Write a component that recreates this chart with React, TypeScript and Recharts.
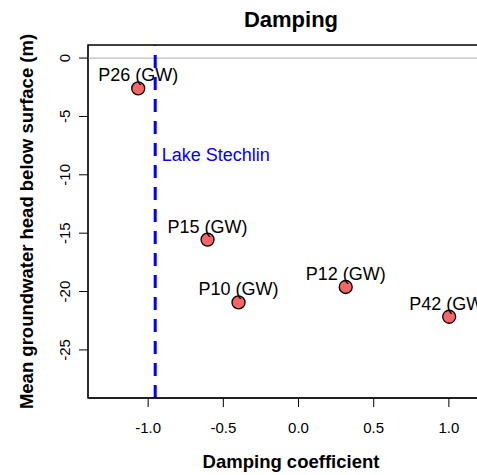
import React from "react";
import {
  ReferenceArea,
  ReferenceDot,
  ReferenceLine,
  Scatter,
  ScatterChart,
  XAxis,
  YAxis,
} from "recharts";

const FONT = "'Liberation Sans', Arial, Helvetica, sans-serif";

// piezometers
const wellNames = ["P26 (GW)", "P15 (GW)", "P10 (GW)", "P12 (GW)", "P42 (GW)"];
const dampingCoef = [-1.066, -0.605, -0.399, 0.314, 1.002];
const meanHead = [-2.6, -15.55, -20.93, -19.61, -22.16];

// lake reference
const lakeName = "Lake Stechlin";
const lakeDamping = -0.953;
const lakeLabelPos = { x: -0.91, y: -8.85 };

const xTicks = [-1, -0.5, 0, 0.5, 1];
const yTicks = [0, -5, -10, -15, -20, -25];
const xDomain: [number, number] = [-1.4, 1.3];
const yDomain: [number, number] = [-29.12, 1.12];

const points = wellNames.map((name, i) => ({
  name,
  x: dampingCoef[i],
  y: meanHead[i],
}));

const PointShape = (props: any) => {
  const { cx, cy, payload } = props;
  return (
    <g>
      <circle cx={cx} cy={cy} r={6.5} fill="#F56666" stroke="#000" strokeWidth={1.3} />
      <text
        x={cx}
        y={cy - 7}
        textAnchor="middle"
        fontSize={18}
        fontFamily={FONT}
        fill="#000"
      >
        {payload.name}
      </text>
    </g>
  );
};

const YTick = (props: any) => {
  const { x, y, payload } = props;
  return (
    <text
      x={x}
      y={y}
      transform={`rotate(-90, ${x}, ${y})`}
      textAnchor="middle"
      fontSize={15}
      fontFamily={FONT}
      fill="#000"
    >
      {payload.value}
    </text>
  );
};

export default function App() {
  return (
    <div
      style={{
        position: "absolute",
        left: 0,
        top: 0,
        width: 477,
        height: 475,
        overflow: "hidden",
        background: "#fff",
      }}
    >
      <div
        style={{
          position: "absolute",
          left: 88,
          width: 406,
          top: 7,
          textAlign: "center",
          fontFamily: FONT,
          fontWeight: "bold",
          fontSize: 22,
        }}
      >
        Damping
      </div>
      <ScatterChart
        width={500}
        height={475}
        margin={{ top: 45, right: 6, bottom: 0, left: 0 }}
      >
        <XAxis
          dataKey="x"
          type="number"
          domain={xDomain}
          ticks={xTicks}
          allowDataOverflow
          tickFormatter={(v: number) => v.toFixed(1)}
          height={77}
          tickSize={9}
          tickMargin={15}
          stroke="#000"
          tick={{ fontSize: 15, fill: "#000", fontFamily: FONT }}
          label={{
            content: (p: any) => {
              const vb = p.viewBox;
              return (
                <text
                  x={vb.x + vb.width / 2}
                  y={vb.y + 70}
                  textAnchor="middle"
                  fontSize={18.5}
                  fontWeight="bold"
                  fontFamily={FONT}
                  fill="#000"
                >
                  Damping coefficient
                </text>
              );
            },
          }}
        />
        <YAxis
          dataKey="y"
          type="number"
          domain={yDomain}
          ticks={yTicks}
          allowDataOverflow
          width={88}
          tickSize={9}
          tickMargin={9}
          stroke="#000"
          tick={<YTick />}
          label={{
            content: (p: any) => {
              const vb = p.viewBox;
              const cx = 33;
              const cy = vb.y + vb.height / 2;
              return (
                <text
                  x={cx}
                  y={cy}
                  transform={`rotate(-90, ${cx}, ${cy})`}
                  textAnchor="middle"
                  fontSize={18.5}
                  fontWeight="bold"
                  fontFamily={FONT}
                  fill="#000"
                >
                  Mean groundwater head below surface (m)
                </text>
              );
            },
          }}
        />
        <ReferenceArea
          x1={xDomain[0]}
          x2={xDomain[1]}
          y1={yDomain[0]}
          y2={yDomain[1]}
          fill="none"
          stroke="#000"
          strokeWidth={1.3}
        />
        <ReferenceLine y={0} stroke="#BEBEBE" strokeWidth={1.2} />
        <ReferenceLine
          x={lakeDamping}
          stroke="#0000FF"
          strokeWidth={3}
          strokeDasharray="13 9"
        />
        <ReferenceDot
          x={lakeLabelPos.x}
          y={lakeLabelPos.y}
          shape={(p: any) => (
            <text
              x={p.cx}
              y={p.cy}
              fontSize={18}
              fontFamily={FONT}
              fill="#0000FF"
            >
              {lakeName}
            </text>
          )}
        />
        <Scatter data={points} shape={<PointShape />} isAnimationActive={false} />
      </ScatterChart>
    </div>
  );
}
